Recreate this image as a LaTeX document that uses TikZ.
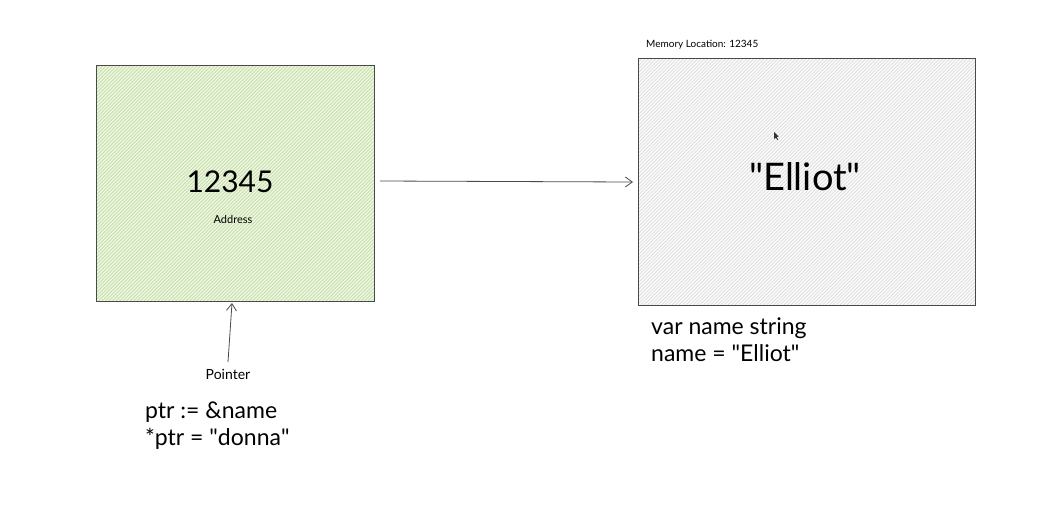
\documentclass[tikz,border=0pt]{standalone}
\usepackage{fontspec}
\setmainfont{Lato}
\usetikzlibrary{arrows.meta}
\definecolor{greenfill}{HTML}{EDF5E2}
\definecolor{greenhatch}{HTML}{B8DB92}
\definecolor{grayfill}{HTML}{FAFAFA}
\definecolor{grayhatch}{HTML}{D6D6D6}
\definecolor{edge}{HTML}{4A4A4A}
\tikzset{
  box/.style={draw=edge, line width=0.9pt},
  link/.style={draw=edge, line width=0.8pt, -{Straight Barb[length=7pt,width=10pt]}},
  hand/.style={inner sep=0pt, text=black},
}
\newcommand{\q}{\textquotedbl}
% diagonal hachure inside a rectangle: #1 west, #2 north, #3 east, #4 south, #5 colour
\newcommand{\hachure}[5]{%
  \begin{scope}
    \clip (#1,#2) rectangle (#3,#4);
    \pgfmathsetmacro{\hspan}{#4-#2}
    \foreach \s in {-260,-256.5,...,360}{
      \draw[#5, line width=0.55pt] (#1+\s,#4) -- ++(\hspan,-\hspan);
    }
  \end{scope}}
\begin{document}
\begin{tikzpicture}[x=1pt,y=-1pt]
  \useasboundingbox[fill=white] (0,0) rectangle (1046,515);

  % pointer cell
  \fill[greenfill] (96,65) rectangle (374,301);
  \hachure{96}{65}{374}{301}{greenhatch}
  \node[box, minimum width=278pt, minimum height=236pt, anchor=north west, inner sep=0pt] (ptrbox) at (96,65) {};
  \node[hand, font=\fontsize{30}{30}\selectfont] (addr) at (230,182) {12345};
  \node[hand, font=\fontsize{11}{11}\selectfont] (addrlbl) at (233,219) {Address};

  % memory cell
  \fill[grayfill] (638,58) rectangle (975,305);
  \hachure{638}{58}{975}{305}{grayhatch}
  \node[box, minimum width=337pt, minimum height=247pt, anchor=north west, inner sep=0pt] (membox) at (638,58) {};
  \node[hand, font=\fontsize{38}{38}\selectfont] (val) at (805,177) {\q Elliot\q};
  \node[hand, font=\fontsize{10}{10}\selectfont, anchor=west] (memlbl) at (646,45) {Memory Location: 12345};
  % mouse cursor
  \fill[black!80] (774,132) -- (774,139) -- (775.6,137.6) -- (777.5,140) -- (778.3,139.4) -- (776.6,137) -- (778.6,136.6) -- cycle;

  % labels below
  \node[hand, font=\fontsize{14}{14}\selectfont] (ptrlbl) at (228,374) {Pointer};
  \node[hand, font=\fontsize{23}{27}\selectfont, anchor=north west, align=left] (code) at (145,402)
    {ptr := \&name\\*ptr = \q donna\q};
  \node[hand, font=\fontsize{23}{27}\selectfont, anchor=north west, align=left] (decl) at (651,318)
    {var name string\\name = \q Elliot\q};

  % connectors
  \coordinate (tail) at (228,362);
  \draw[link] (tail) -- (232,303);
  \draw[link] (380,181) -- (633,182);
\end{tikzpicture}
\end{document}
